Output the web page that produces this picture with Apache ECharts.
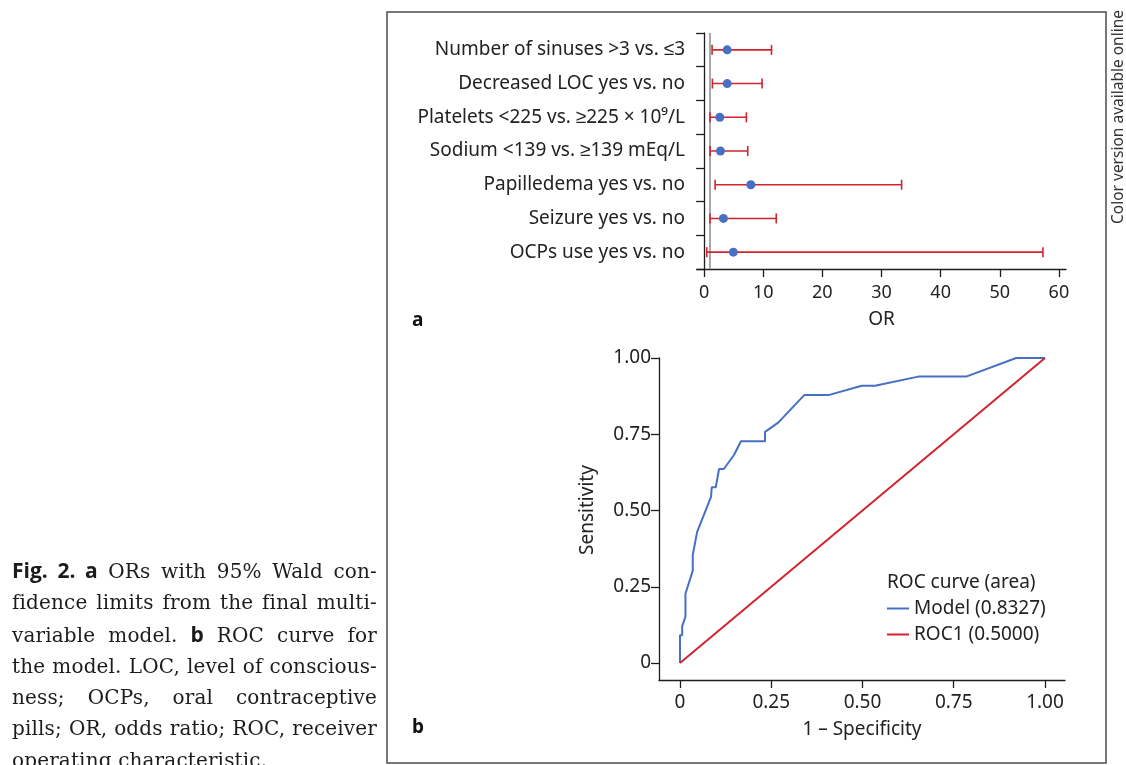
<!DOCTYPE html>
<html>
<head>
<meta charset="utf-8">
<script src="https://cdn.jsdelivr.net/npm/echarts@6/dist/echarts.min.js"></script>
<style>
  html, body { margin: 0; padding: 0; background: #fff; }
  #chart { position: absolute; left: 0; top: 0; width: 1126px; height: 765px; }
  #caption {
    position: absolute; left: 12px; top: 555px; width: 365px;
    font-family: "DejaVu Serif", serif; font-size: 20px; line-height: 31.3px; color: #1c1c1c;
    letter-spacing: 0.15px;
  }
  #caption div { white-space: nowrap; text-align: justify; text-align-last: justify; }
  #caption div.last { text-align-last: left; }
  #caption b { font-family: "Open Sans", "Noto Sans", sans-serif; font-weight: 700; font-size: 21px; letter-spacing: 0; }
</style>
</head>
<body>
<div id="chart"></div>
<div id="caption">
  <div><b>Fig. 2. a</b> ORs with 95% Wald con-</div>
  <div>fidence limits from the final multi-</div>
  <div>variable model. <b>b</b> ROC curve for</div>
  <div>the model. LOC, level of conscious-</div>
  <div>ness; OCPs, oral contraceptive</div>
  <div>pills; OR, odds ratio; ROC, receiver</div>
  <div class="last">operating characteristic.</div>
</div>
<script>
// panel a: odds ratios with 95% CI
const orLabels = [
  'Number of sinuses >3 vs. ≤3',
  'Decreased LOC yes vs. no',
  'Platelets <225 vs. ≥225 × 10⁹/L',
  'Sodium <139 vs. ≥139 mEq/L',
  'Papilledema yes vs. no',
  'Seizure yes vs. no',
  'OCPs use yes vs. no'
];
const orValues = [3.9, 3.9, 2.65, 2.76, 7.9, 3.27, 4.95];
const orLower = [1.35, 1.4, 1.0, 1.0, 1.86, 1.0, 0.45];
const orUpper = [11.4, 9.8, 7.15, 7.38, 33.4, 12.2, 57.3];
const orTicks = [0, 10, 20, 30, 40, 50, 60];

// panel b: ROC curve
const rocFpr = [0, 0, 0.006, 0.006, 0.015, 0.015, 0.035, 0.035, 0.047, 0.085, 0.087, 0.098, 0.107, 0.12,
  0.148, 0.167, 0.233, 0.233, 0.269, 0.341, 0.409, 0.498, 0.534, 0.653, 0.784, 0.921, 1.0];
const rocTpr = [0, 0.091, 0.091, 0.121, 0.152, 0.227, 0.303, 0.354, 0.43, 0.545, 0.576, 0.576, 0.636, 0.636,
  0.682, 0.727, 0.727, 0.758, 0.788, 0.879, 0.879, 0.909, 0.909, 0.939, 0.939, 1.0, 1.0];
const refFpr = [0, 1];
const refTpr = [0, 1];
const rocTicks = [0, 0.25, 0.5, 0.75, 1];
const rocNames = ['Model (0.8327)', 'ROC1 (0.5000)'];

const BLUE = '#4670c4';
const RED = '#d2232f';
const AX = '#1e1e1e';
const FONT = '"Noto Sans", sans-serif';

const chart = echarts.init(document.getElementById('chart'), null, { renderer: 'canvas' });

const ciData = orLabels.map((c, i) => [i, orLower[i], orUpper[i]]);
const pointData = orLabels.map((c, i) => [orValues[i], i]);

const option = {
  backgroundColor: '#fff',
  animation: false,
  textStyle: { fontFamily: FONT },
  title: [
    { text: 'a', left: 412, top: 311, padding: 0, textStyle: { fontFamily: FONT, fontSize: 19, fontWeight: 'bold', color: '#111' } },
    { text: 'b', left: 412, top: 718, padding: 0, textStyle: { fontFamily: FONT, fontSize: 19, fontWeight: 'bold', color: '#111' } },
    { text: 'ROC curve (area)', left: 887, top: 573, padding: 0, textStyle: { fontFamily: FONT, fontSize: 19, fontWeight: 'normal', color: '#222' } }
  ],
  legend: {
    data: rocNames,
    orient: 'vertical',
    left: 887,
    top: 599,
    padding: 0,
    itemGap: 7,
    itemWidth: 22,
    itemHeight: 2,
    icon: 'rect',
    textStyle: { fontFamily: FONT, fontSize: 19, color: '#222' }
  },
  graphic: [
    {
      type: 'rect', silent: true,
      shape: { x: 387, y: 12, width: 719, height: 751 },
      style: { fill: 'none', stroke: '#4d4d4d', lineWidth: 1.5 }
    },
    {
      type: 'text', silent: true,
      x: 1119, y: 117, rotation: Math.PI / 2,
      style: { text: 'Color version available online', font: '15.5px "Noto Sans", sans-serif', fill: '#333', align: 'center', verticalAlign: 'middle' }
    }
  ],
  grid: [
    { left: 697, right: 60, top: 33, bottom: 496 },
    { left: 659, right: 61, top: 358, bottom: 85 }
  ],
  xAxis: [
    {
      gridIndex: 0, type: 'value', min: -1.2, max: 61.2,
      name: 'OR', nameLocation: 'middle', nameGap: 41,
      nameTextStyle: { fontFamily: FONT, fontSize: 19, color: '#222' },
      splitLine: { show: false },
      axisLine: { show: true, lineStyle: { color: AX, width: 1.3 } },
      axisTick: { show: true, length: 8, customValues: orTicks, lineStyle: { color: AX, width: 1.3 } },
      axisLabel: { customValues: orTicks, margin: 15, fontFamily: FONT, fontSize: 18, color: '#222' }
    },
    {
      gridIndex: 1, type: 'value', min: -0.0575, max: 1.0548,
      name: '1 – Specificity', nameLocation: 'middle', nameGap: 40,
      nameTextStyle: { fontFamily: FONT, fontSize: 19, color: '#222' },
      splitLine: { show: false },
      axisLine: { show: true, onZero: false, lineStyle: { color: AX, width: 1.3 } },
      axisTick: { show: true, length: 8, customValues: rocTicks, lineStyle: { color: AX, width: 1.3 } },
      axisLabel: {
        customValues: rocTicks, margin: 13, fontFamily: FONT, fontSize: 19, color: '#222',
        formatter: v => (v === 0 ? '0' : v.toFixed(2))
      }
    }
  ],
  yAxis: [
    {
      gridIndex: 0, type: 'category', data: orLabels, inverse: true,
      axisLine: { show: true, lineStyle: { color: AX, width: 1.3 } },
      axisTick: { show: true, length: 8, lineStyle: { color: AX, width: 1.3 } },
      axisLabel: { margin: 12, fontFamily: FONT, fontSize: 19, color: '#222' },
      splitLine: { show: false }
    },
    {
      gridIndex: 1, type: 'value', min: -0.0557, max: 1,
      name: 'Sensitivity', nameLocation: 'middle', nameGap: 62, nameRotate: 90,
      nameTextStyle: { fontFamily: FONT, fontSize: 19, color: '#222', padding: [0, 0, 0, 18] },
      splitLine: { show: false },
      axisLine: { show: true, onZero: false, lineStyle: { color: AX, width: 1.3 } },
      axisTick: { show: true, length: 8, customValues: rocTicks, lineStyle: { color: AX, width: 1.3 } },
      axisLabel: {
        customValues: rocTicks, margin: 8, fontFamily: FONT, fontSize: 19, color: '#222',
        formatter: v => (v === 0 ? '0' : v.toFixed(2))
      }
    }
  ],
  series: [
    {
      type: 'custom',
      xAxisIndex: 0, yAxisIndex: 0,
      data: ciData,
      encode: { y: 0, x: [1, 2] },
      silent: true,
      z: 3,
      renderItem: function (params, api) {
        const lo = api.coord([api.value(1), api.value(0)]);
        const hi = api.coord([api.value(2), api.value(0)]);
        const cap = 5;
        const style = { stroke: RED, lineWidth: 1.6 };
        return {
          type: 'group',
          children: [
            { type: 'line', shape: { x1: lo[0], y1: lo[1], x2: hi[0], y2: hi[1] }, style: style },
            { type: 'line', shape: { x1: lo[0], y1: lo[1] - cap, x2: lo[0], y2: lo[1] + cap }, style: style },
            { type: 'line', shape: { x1: hi[0], y1: hi[1] - cap, x2: hi[0], y2: hi[1] + cap }, style: style }
          ]
        };
      }
    },
    {
      type: 'scatter',
      xAxisIndex: 0, yAxisIndex: 0,
      data: pointData,
      symbol: 'circle',
      symbolSize: 9,
      itemStyle: { color: BLUE, opacity: 1 },
      z: 4,
      markLine: {
        silent: true,
        symbol: ['none', 'none'],
        label: { show: false },
        lineStyle: { color: '#a8a8a8', width: 2, type: 'solid' },
        data: [{ xAxis: 1 }],
        z: 1
      }
    },
    {
      name: rocNames[0],
      type: 'line',
      xAxisIndex: 1, yAxisIndex: 1,
      data: rocFpr.map((x, i) => [x, rocTpr[i]]),
      showSymbol: false,
      symbol: 'none',
      lineStyle: { color: BLUE, width: 2 },
      itemStyle: { color: BLUE }
    },
    {
      name: rocNames[1],
      type: 'line',
      xAxisIndex: 1, yAxisIndex: 1,
      data: refFpr.map((x, i) => [x, refTpr[i]]),
      showSymbol: false,
      symbol: 'none',
      lineStyle: { color: RED, width: 2 },
      itemStyle: { color: RED }
    }
  ]
};

chart.setOption(option);
</script>
</body>
</html>
